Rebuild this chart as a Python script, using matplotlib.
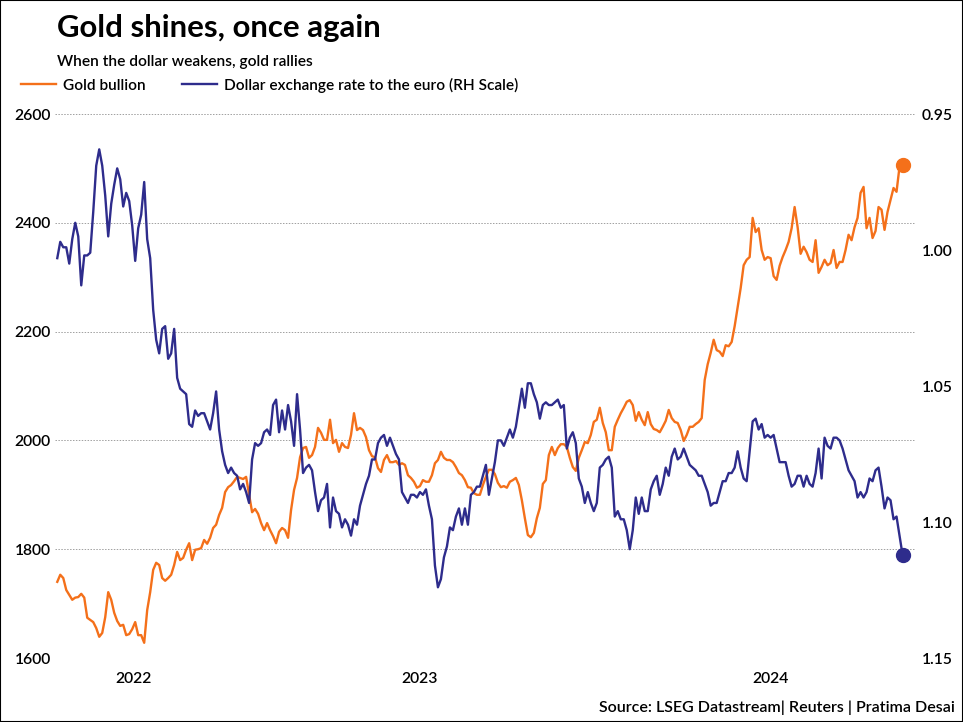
import matplotlib
matplotlib.use("Agg")
import matplotlib.pyplot as plt
import matplotlib.patches as mpatches
from matplotlib.lines import Line2D
import pandas as pd

# ── data (roughly every 2.6 days) ──────────────────────────────────────────
START, END = "2022-08-17", "2024-08-31"

gold = [
    1740, 1753, 1747, 1725, 1716, 1707, 1711, 1712, 1718, 1711,
    1674, 1670, 1666, 1655, 1639, 1646, 1675, 1721, 1707, 1683,
    1668, 1659, 1661, 1642, 1644, 1653, 1666, 1642, 1642, 1628,
    1688, 1721, 1762, 1775, 1771, 1747, 1742, 1747, 1753, 1771,
    1795, 1780, 1784, 1799, 1811, 1780, 1799, 1800, 1802, 1817,
    1810, 1821, 1839, 1845, 1863, 1876, 1905, 1914, 1918, 1925,
    1933, 1931, 1929, 1933, 1900, 1868, 1874, 1865, 1848, 1835,
    1848, 1835, 1824, 1811, 1832, 1839, 1835, 1821, 1872, 1909,
    1931, 1969, 1986, 1988, 1968, 1973, 1988, 2023, 2014, 2001,
    2001, 2038, 1995, 2001, 1979, 1995, 1988, 1986, 2010, 2050,
    2019, 2023, 2019, 2006, 1982, 1971, 1969, 1949, 1942, 1964,
    1973, 1960, 1960, 1962, 1955, 1958, 1955, 1936, 1931, 1924,
    1913, 1916, 1927, 1924, 1924, 1936, 1958, 1964, 1979, 1968,
    1964, 1964, 1960, 1951, 1940, 1936, 1927, 1914, 1913, 1903,
    1900, 1900, 1918, 1933, 1946, 1946, 1938, 1922, 1914, 1916,
    1913, 1924, 1927, 1931, 1918, 1890, 1857, 1826, 1822, 1830,
    1857, 1876, 1920, 1927, 1973, 1988, 1973, 1986, 1993, 1993,
    1988, 1968, 1951, 1944, 1968, 1982, 1997, 1995, 2010, 2034,
    2038, 2060, 2032, 2015, 1982, 1982, 2025, 2038, 2050, 2060,
    2071, 2074, 2065, 2036, 2052, 2038, 2028, 2052, 2030, 2021,
    2019, 2015, 2025, 2036, 2056, 2041, 2034, 2032, 2019, 1999,
    2010, 2025, 2025, 2030, 2034, 2041, 2111, 2140, 2161, 2185,
    2166, 2163, 2155, 2175, 2173, 2181, 2210, 2245, 2280, 2322,
    2332, 2337, 2409, 2383, 2390, 2350, 2332, 2337, 2335, 2302,
    2295, 2321, 2337, 2350, 2365, 2390, 2429, 2392, 2343, 2356,
    2346, 2332, 2328, 2368, 2308, 2319, 2332, 2322, 2326, 2350,
    2317, 2328, 2328, 2350, 2378, 2368, 2392, 2409, 2455, 2466,
    2390, 2409, 2372, 2385, 2429, 2424, 2387, 2420, 2442, 2464,
    2457, 2503, 2506,
]

eur = [
    1.003, 0.997, 0.999, 0.999, 1.005, 0.996, 0.990, 0.995, 1.013, 1.002,
    1.002, 1.001, 0.986, 0.969, 0.963, 0.969, 0.980, 0.995, 0.983, 0.976,
    0.970, 0.974, 0.984, 0.979, 0.982, 0.991, 1.004, 0.992, 0.987, 0.975,
    0.996, 1.003, 1.022, 1.033, 1.038, 1.029, 1.028, 1.040, 1.038, 1.029,
    1.047, 1.051, 1.052, 1.053, 1.064, 1.065, 1.059, 1.061, 1.060, 1.060,
    1.063, 1.066, 1.060, 1.052, 1.066, 1.074, 1.079, 1.082, 1.080, 1.082,
    1.083, 1.088, 1.086, 1.089, 1.093, 1.077, 1.071, 1.072, 1.071, 1.067,
    1.066, 1.068, 1.057, 1.055, 1.067, 1.059, 1.066, 1.057, 1.063, 1.072,
    1.053, 1.066, 1.082, 1.080, 1.079, 1.081, 1.089, 1.096, 1.092, 1.091,
    1.086, 1.102, 1.091, 1.096, 1.097, 1.102, 1.099, 1.101, 1.105, 1.099,
    1.101, 1.094, 1.090, 1.086, 1.083, 1.077, 1.077, 1.071, 1.069, 1.068,
    1.072, 1.069, 1.072, 1.075, 1.077, 1.089, 1.091, 1.093, 1.090, 1.090,
    1.091, 1.089, 1.090, 1.088, 1.094, 1.099, 1.116, 1.124, 1.121, 1.113,
    1.109, 1.102, 1.103, 1.098, 1.095, 1.101, 1.095, 1.101, 1.090, 1.089,
    1.087, 1.087, 1.083, 1.079, 1.090, 1.084, 1.078, 1.070, 1.070, 1.072,
    1.069, 1.066, 1.069, 1.065, 1.058, 1.051, 1.058, 1.049, 1.049, 1.053,
    1.056, 1.062, 1.057, 1.056, 1.057, 1.057, 1.056, 1.055, 1.058, 1.057,
    1.073, 1.069, 1.067, 1.071, 1.084, 1.087, 1.093, 1.089, 1.093, 1.096,
    1.093, 1.080, 1.079, 1.077, 1.076, 1.080, 1.098, 1.096, 1.099, 1.099,
    1.103, 1.110, 1.103, 1.091, 1.097, 1.091, 1.096, 1.096, 1.088, 1.085,
    1.083, 1.090, 1.086, 1.080, 1.083, 1.076, 1.073, 1.077, 1.076, 1.073,
    1.076, 1.079, 1.080, 1.081, 1.083, 1.083, 1.086, 1.089, 1.094, 1.093,
    1.093, 1.089, 1.085, 1.085, 1.082, 1.082, 1.080, 1.074, 1.080, 1.084,
    1.085, 1.074, 1.063, 1.062, 1.066, 1.064, 1.069, 1.068, 1.069, 1.068,
    1.073, 1.078, 1.078, 1.078, 1.083, 1.087, 1.086, 1.083, 1.083, 1.087,
    1.083, 1.086, 1.087, 1.082, 1.073, 1.084, 1.069, 1.072, 1.073, 1.069,
    1.069, 1.070, 1.073, 1.077, 1.081, 1.083, 1.085, 1.091, 1.089, 1.091,
    1.089, 1.084, 1.085, 1.081, 1.080, 1.087, 1.095, 1.091, 1.092, 1.099,
    1.098, 1.105, 1.112,
]

GOLD_TICKS = [1600, 1800, 2000, 2200, 2400, 2600]
EUR_TICKS = [0.95, 1.00, 1.05, 1.10, 1.15]
YEARS = [2022, 2023, 2024]

ORANGE = "#F4701A"
BLUE = "#2E2C8C"
GRID = "#A0A0A0"

plt.rcParams.update({
    "font.family": ["Lato", "DejaVu Sans"],
    "font.weight": 600,
})

dates = pd.date_range(START, END, periods=len(gold))
x_lo = pd.Timestamp("2022-08-15")
x_hi = pd.Timestamp("2024-09-11")

fig = plt.figure(figsize=(9.63, 7.22), dpi=100)
W, H = 963, 722
ax = fig.add_axes([55 / W, 1 - 658 / H, (915 - 55) / W, (658 - 114) / H])
ax2 = ax.twinx()

ax.plot(dates, gold, color=ORANGE, lw=1.7, solid_joinstyle="round")
ax.plot(dates[-1], gold[-1], "o", color=ORANGE, ms=10, clip_on=False)
ax2.plot(dates, eur, color=BLUE, lw=1.7, solid_joinstyle="round")
ax2.plot(dates[-1], eur[-1], "o", color=BLUE, ms=10, clip_on=False)

ax.set_xlim(x_lo, x_hi)
ax.set_ylim(1600, 2600)
ax2.set_ylim(1.15, 0.95)

TICK_FS = 11.3
ax.set_yticks(GOLD_TICKS)
ax.set_yticklabels([str(v) for v in GOLD_TICKS], fontsize=TICK_FS, fontweight=600)
ax2.set_yticks(EUR_TICKS)
ax2.set_yticklabels([f"{v:.2f}" for v in EUR_TICKS], fontsize=TICK_FS, fontweight=600)
ax.yaxis.grid(True, color=GRID, linestyle=(0, (1.5, 1.5)), linewidth=0.7)
ax.set_axisbelow(True)

# year labels sit in the middle of each year's visible stretch
mids = []
for yr in YEARS:
    a = max(pd.Timestamp(f"{yr}-01-01"), x_lo)
    b = min(pd.Timestamp(f"{yr + 1}-01-01"), x_hi)
    mids.append(a + (b - a) / 2)
ax.set_xticks(mids)
ax.set_xticklabels([str(y) for y in YEARS], fontsize=TICK_FS, fontweight=600)

for a in (ax, ax2):
    for s in a.spines.values():
        s.set_visible(False)
ax.tick_params(axis="y", length=0, pad=3)
ax.tick_params(axis="x", length=0, pad=10)
ax2.tick_params(axis="y", length=0, pad=5)

# ── header, legend, source ──────────────────────────────────────────────────
fig.text(57 / W, 1 - 37 / H, "Gold shines, once again", fontsize=22.4,
         fontweight="bold", va="baseline")
fig.text(57 / W, 1 - 66 / H, "When the dollar weakens, gold rallies",
         fontsize=11.2, fontweight=600, va="baseline")
fig.add_artist(Line2D([21 / W, 56 / W], [1 - 84 / H] * 2, color=ORANGE, lw=1.7))
fig.text(63 / W, 1 - 90 / H, "Gold bullion", fontsize=11.1,
         fontweight=600, va="baseline")
fig.add_artist(Line2D([182 / W, 217 / W], [1 - 84 / H] * 2, color=BLUE, lw=1.7))
fig.text(224 / W, 1 - 90 / H, "Dollar exchange rate to the euro (RH Scale)",
         fontsize=11.1, fontweight=600, va="baseline")
fig.text(955 / W, 1 - 708 / H, "Source: LSEG Datastream| Reuters | Pratima Desai",
         fontsize=11.5, fontweight=600, ha="right", va="center")

fig.add_artist(mpatches.Rectangle((0, 0), 1, 1, transform=fig.transFigure,
                                  fill=False, edgecolor="black", lw=1.5))

fig.savefig("out.png", dpi=100)
